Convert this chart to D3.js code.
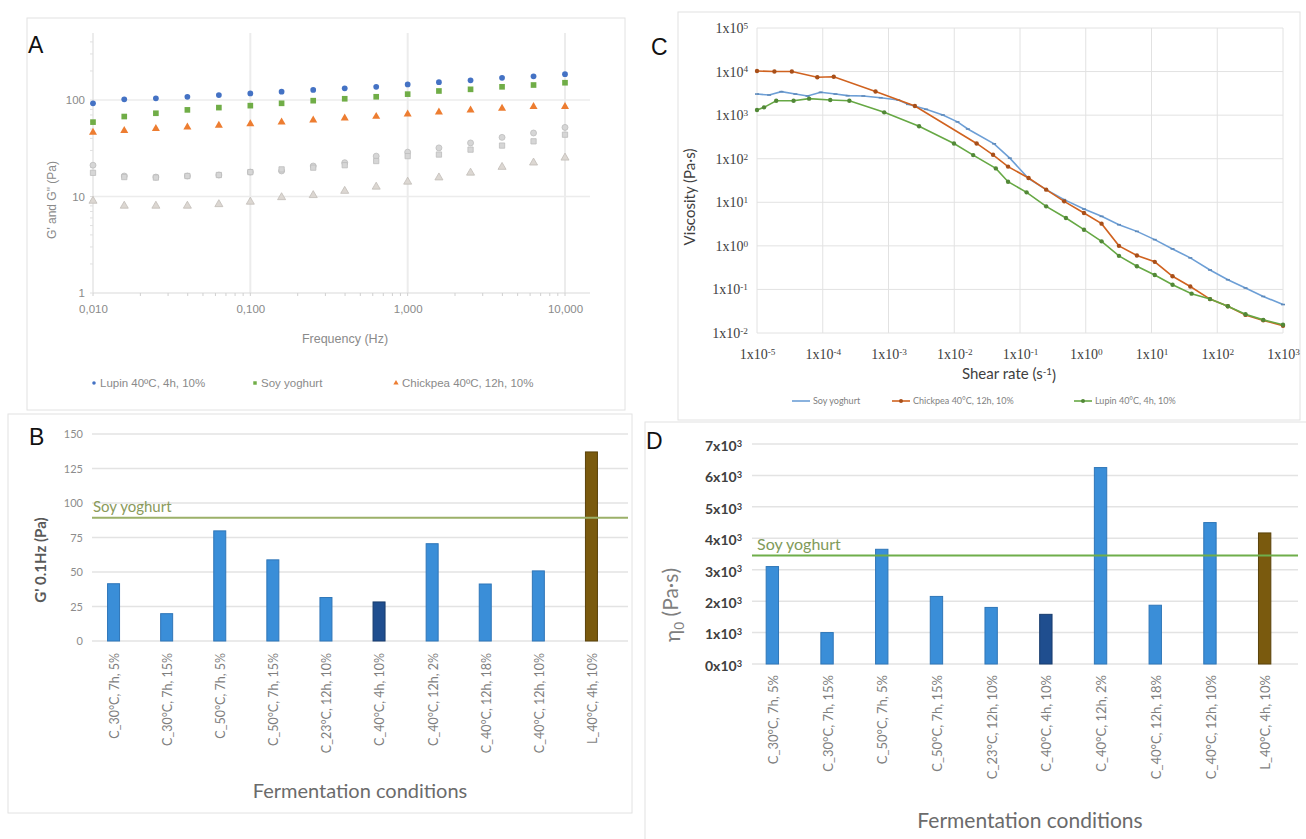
<!DOCTYPE html>
<html>
<head>
<meta charset="utf-8">
<script src="https://cdn.jsdelivr.net/npm/d3@7"></script>
<style>
  body { margin: 0; background: #fff; }
  svg { display: block; }
</style>
</head>
<body>
<script>
// ---- panel A: frequency sweep (G' filled colour, G'' grey)
var freqHz = [0.01, 0.0158, 0.0251, 0.0398, 0.0631, 0.1, 0.158, 0.251, 0.398, 0.631, 1, 1.58, 2.51, 3.98, 6.31, 10];
var lupinG1 = [92.4, 101.6, 104, 108, 112.6, 117, 122, 127, 132, 137, 145, 153, 160, 170, 176, 185];
var soyG1 = [59, 67.4, 72.9, 79, 83.4, 87.4, 92.4, 98.4, 103, 108, 115, 124, 129, 137, 143, 151];
var chickG1 = [46.2, 48, 50.4, 52.4, 54.5, 56.6, 59, 61.8, 64.8, 67.4, 71.2, 74.7, 78.3, 82, 85.4, 85.4];
var lupinG2 = [21.1, 16.3, 15.9, 16.3, 16.7, 17.9, 18.4, 20.7, 22.4, 26.2, 28.8, 31.9, 35.9, 41, 45.5, 52];
var soyG2 = [17.6, 15.9, 15.7, 16.3, 16.7, 17.9, 19.1, 19.9, 21.1, 23.3, 26.2, 27.2, 30.6, 33.7, 37.3, 43.7];
var chickG2 = [9.0, 8.0, 8.0, 8.0, 8.3, 8.8, 9.8, 10.3, 11.4, 12.6, 14.2, 15.7, 17.6, 20.2, 22.4, 25.2];
var freqTicks = [0.01, 0.1, 1, 10];
var freqTickLabels = ["0,010", "0,100", "1,000", "10,000"];
var modTicks = [1, 10, 100];

// ---- panels B and D: fermentation conditions
var conditions = ["C_30°C, 7h, 5%", "C_30°C, 7h, 15%", "C_50°C, 7h, 5%", "C_50°C, 7h, 15%", "C_23°C, 12h, 10%",
  "C_40°C, 4h, 10%", "C_40°C, 12h, 2%", "C_40°C, 12h, 18%", "C_40°C, 12h, 10%", "L_40°C, 4h, 10%"];
var gPrime01Hz = [41.5, 19.8, 79.8, 58.8, 31.5, 28.3, 70.5, 41.3, 50.8, 137];
var soyGPrime = 89.3;
var gTicks = [0, 25, 50, 75, 100, 125, 150];
var eta0 = [3100, 1000, 3650, 2150, 1800, 1580, 6250, 1870, 4500, 4170];
var soyEta0 = 3450;
var etaTicks = [0, 1000, 2000, 3000, 4000, 5000, 6000, 7000];

// ---- panel C: flow curves
var soyShear = [1e-5, 1.53e-5, 2.35e-5, 3.83e-5, 5.87e-5, 9.3e-5, 1.56e-4, 2.39e-4, 4.14e-4, 7.6e-4, 1.41e-3, 1.98e-3, 3.73e-3, 6.7e-3,
  0.0112, 0.0161, 0.0404, 0.070, 0.136, 0.25, 0.47, 0.94, 1.74, 3.2, 6.0, 11.2, 20.9, 38.9, 77.6, 145, 269, 501, 1000];
var soyVisc = [3050, 2900, 3460, 3050, 2750, 3340, 3050, 2800, 2750, 2510, 2220, 1770, 1360, 1010,
  700, 480, 220, 103, 34.8, 19.5, 11.5, 7.0, 4.76, 3.06, 2.15, 1.39, 0.85, 0.53, 0.28, 0.167, 0.108, 0.069, 0.045];
var chickShear = [1e-5, 1.84e-5, 3.39e-5, 8.26e-5, 1.47e-4, 6.35e-4, 2.52e-3, 0.0219, 0.0389, 0.0658, 0.135, 0.25, 0.47, 0.94,
  1.74, 3.2, 6.0, 11.2, 20.9, 38.9, 77.6, 145, 269, 501, 1000];
var chickVisc = [10300, 10000, 10000, 7400, 7600, 3500, 1620, 224, 123, 66, 36.1, 19.5, 10.5, 5.67,
  3.23, 1.0, 0.6, 0.43, 0.20, 0.117, 0.060, 0.041, 0.026, 0.0195, 0.0147];
var lupinShear = [1e-5, 1.28e-5, 1.96e-5, 3.6e-5, 6.2e-5, 1.3e-4, 2.54e-4, 8.6e-4, 2.92e-3, 9.9e-3, 0.0194, 0.0429, 0.0658,
  0.126, 0.25, 0.5, 0.94, 1.74, 3.2, 6.0, 11.2, 20.9, 40.7, 77.6, 145, 269, 501, 1000];
var lupinVisc = [1310, 1510, 2140, 2140, 2390, 2230, 2140, 1160, 555, 224, 121, 60, 29.7,
  16.9, 8.07, 4.36, 2.35, 1.27, 0.59, 0.34, 0.214, 0.128, 0.080, 0.060, 0.041, 0.027, 0.020, 0.0155];
var shearTicks = [1e-5, 1e-4, 1e-3, 1e-2, 1e-1, 1, 10, 100, 1000];
var viscTicks = [1e-2, 1e-1, 1, 10, 100, 1000, 1e4, 1e5];

var svg = d3.select("body").append("svg")
    .attr("width", 1306)
    .attr("height", 839);

var sans = "'Liberation Sans', Arial, sans-serif";
var cal = "Lato, 'Open Sans', sans-serif";

// panel frames
svg.append("rect").attr("x", 27).attr("y", 18).attr("width", 598).attr("height", 392)
    .attr("fill", "none").attr("stroke", "#e2e2e2");
svg.append("rect").attr("x", 8).attr("y", 414).attr("width", 624).attr("height", 399)
    .attr("fill", "none").attr("stroke", "#e2e2e2");
svg.append("rect").attr("x", 678).attr("y", 12).attr("width", 622).attr("height", 408)
    .attr("fill", "none").attr("stroke", "#e2e2e2");
svg.append("rect").attr("x", 645).attr("y", 422).attr("width", 700).attr("height", 440)
    .attr("fill", "none").attr("stroke", "#e2e2e2");

function panelLetter(t, x, y) {
  svg.append("text").attr("x", x).attr("y", y).text(t)
      .style("font-family", sans).style("font-size", "23px").style("fill", "#111");
}
panelLetter("A", 28, 53);
panelLetter("B", 29, 445);
panelLetter("C", 651, 55);
panelLetter("D", 646, 449);

function supText(sel, base, exp) {
  sel.text(null);
  sel.append("tspan").text(base);
  sel.append("tspan").attr("dy", "-0.45em").style("font-size", "66%").text(exp);
}

// ================= A =================
(function () {
  var g = svg.append("g");
  var x = d3.scaleLog().domain([0.01, 10]).range([93, 565]);
  var y = d3.scaleLog().domain([1, 100]).range([293, 100]);
  var right = 590, top = 33;

  g.selectAll("line.hgrid").data([10, 100]).join("line").attr("class", "hgrid")
      .attr("x1", x(0.01)).attr("x2", right).attr("y1", y).attr("y2", y)
      .attr("stroke", "#ececec").attr("stroke-width", 1.5);
  g.selectAll("line.vgrid").data([0.1, 1, 10]).join("line").attr("class", "vgrid")
      .attr("x1", x).attr("x2", x).attr("y1", top).attr("y2", y(1))
      .attr("stroke", "#ececec").attr("stroke-width", 2);

  // axis lines with minor ticks
  g.append("line").attr("x1", x(0.01)).attr("x2", right).attr("y1", y(1)).attr("y2", y(1)).attr("stroke", "#d9d9d9");
  g.append("line").attr("x1", x(0.01)).attr("x2", x(0.01)).attr("y1", top).attr("y2", y(1)).attr("stroke", "#d9d9d9");
  var xMinor = d3.scaleLog().domain([0.01, x.invert(right)]).ticks();
  g.selectAll("line.xm").data(xMinor).join("line").attr("class", "xm")
      .attr("x1", x).attr("x2", x).attr("y1", y(1)).attr("y2", y(1) + 3).attr("stroke", "#d0d0d0");
  var yMinor = d3.scaleLog().domain([1, y.invert(top)]).ticks();
  g.selectAll("line.ym").data(yMinor).join("line").attr("class", "ym")
      .attr("x1", x(0.01) - 3).attr("x2", x(0.01)).attr("y1", y).attr("y2", y).attr("stroke", "#e0e0e0");

  var xAxis = g.append("g").attr("transform", "translate(0," + y(1) + ")")
      .call(d3.axisBottom(x).tickValues(freqTicks).tickSize(0).tickPadding(12)
        .tickFormat(function (d, i) { return freqTickLabels[i]; }));
  var yAxis = g.append("g").attr("transform", "translate(" + x(0.01) + ",0)")
      .call(d3.axisLeft(y).tickValues(modTicks).tickSize(0).tickPadding(8).tickFormat(d3.format("d")));
  [xAxis, yAxis].forEach(function (a) {
    a.select(".domain").remove();
    a.selectAll("text").style("font-family", sans).style("font-size", "11.5px").style("fill", "#8a8a8a");
  });

  g.append("text").attr("transform", "translate(56,200) rotate(-90)").attr("text-anchor", "middle")
      .text("G' and G\" (Pa)").style("font-family", sans).style("font-size", "12px").style("fill", "#8a8a8a");
  g.append("text").attr("x", 345).attr("y", 343).attr("text-anchor", "middle").text("Frequency (Hz)")
      .style("font-family", sans).style("font-size", "12.5px").style("fill", "#8a8a8a");

  var series = [
    { v: lupinG2, type: d3.symbolCircle, size: 28, fill: "#d6d6d6", stroke: "#bdbdbd" },
    { v: soyG2, type: d3.symbolSquare, size: 28, fill: "#d6d6d6", stroke: "#bdbdbd" },
    { v: chickG2, type: d3.symbolTriangle, size: 28, fill: "#dcd7d2", stroke: "#c2bdb8" },
    { v: chickG1, type: d3.symbolTriangle, size: 28, fill: "#ed7d31", stroke: "none" },
    { v: soyG1, type: d3.symbolSquare, size: 32, fill: "#70ad47", stroke: "none" },
    { v: lupinG1, type: d3.symbolCircle, size: 26, fill: "#4472c4", stroke: "none" }
  ];
  series.forEach(function (s) {
    g.append("g").selectAll("path").data(s.v).join("path")
        .attr("d", d3.symbol().type(s.type).size(s.size))
        .attr("transform", function (d, i) { return "translate(" + x(freqHz[i]) + "," + y(d) + ")"; })
        .attr("fill", s.fill).attr("stroke", s.stroke).attr("stroke-width", 0.8);
  });

  var legend = [
    { t: "Lupin 40ºC, 4h, 10%", type: d3.symbolCircle, size: 10, fill: "#4472c4", x: 94 },
    { t: "Soy yoghurt", type: d3.symbolSquare, size: 12, fill: "#70ad47", x: 255 },
    { t: "Chickpea 40ºC, 12h, 10%", type: d3.symbolTriangle, size: 12, fill: "#ed7d31", x: 396 }
  ];
  legend.forEach(function (l) {
    g.append("path").attr("d", d3.symbol().type(l.type).size(l.size)())
        .attr("transform", "translate(" + l.x + ",383)").attr("fill", l.fill);
    g.append("text").attr("x", l.x + 6).attr("y", 387).text(l.t)
        .style("font-family", sans).style("font-size", "11.5px").style("fill", "#8a8a8a");
  });
})();

// ================= bar panels B and D =================
function barColor(c) {
  if (c.indexOf("L_") === 0) return "#7a5a0e";
  if (c === "C_40°C, 4h, 10%") return "#1f4e8f";
  return "#3a8ed8";
}
function barStroke(c) {
  if (c.indexOf("L_") === 0) return "#5a420a";
  if (c === "C_40°C, 4h, 10%") return "#183c6e";
  return "#2f76b8";
}

function barPanel(o) {
  var g = svg.append("g");
  var x = d3.scaleBand().domain(conditions).range(o.xRange).paddingInner(0.774).paddingOuter(0.387);
  var y = d3.scaleLinear().domain(o.yDomain).range(o.yRange);

  g.selectAll("line.grid").data(o.ticks).join("line").attr("class", "grid")
      .attr("x1", o.gridX[0]).attr("x2", o.gridX[1]).attr("y1", y).attr("y2", y)
      .attr("stroke", "#e3e3e3").attr("stroke-width", 1.5);

  var yAxis = g.append("g").attr("transform", "translate(" + o.labelX + ",0)")
      .call(d3.axisLeft(y).tickValues(o.ticks).tickSize(0).tickPadding(0).tickFormat(function () { return ""; }));
  yAxis.select(".domain").remove();
  yAxis.selectAll(".tick text").each(function (d) { o.tickText(d3.select(this), d); })
      .style("font-family", o.tickFont).style("font-size", o.tickSize).style("fill", o.tickFill)
      .style("font-weight", o.tickWeight);

  g.selectAll("rect.bar").data(o.values).join("rect").attr("class", "bar")
      .attr("x", function (d, i) { return x(conditions[i]); })
      .attr("width", x.bandwidth())
      .attr("y", function (d) { return y(d); })
      .attr("height", function (d) { return y(0) - y(d); })
      .attr("fill", function (d, i) { return barColor(conditions[i]); })
      .attr("stroke", function (d, i) { return barStroke(conditions[i]); })
      .attr("stroke-width", 1);

  g.append("line").attr("x1", o.gridX[0]).attr("x2", o.gridX[1]).attr("y1", y(o.soy)).attr("y2", y(o.soy))
      .attr("stroke", o.soyColor).attr("stroke-width", 2);
  g.append("text").attr("x", o.soyX).attr("y", y(o.soy) - 6).text("Soy yoghurt")
      .style("font-family", cal).style("font-size", o.soySize).style("fill", o.soyText);

  g.selectAll("text.cat").data(conditions).join("text").attr("class", "cat")
      .attr("transform", function (d) { return "translate(" + (x(d) + x.bandwidth() / 2 + 1) + "," + o.catY + ") rotate(-90)"; })
      .attr("text-anchor", "end").attr("dy", "0.35em").text(function (d) { return d; })
      .style("font-family", cal).style("font-size", o.catSize).style("fill", "#7f7f7f");

  g.append("text").attr("x", o.titleX).attr("y", o.titleY).attr("text-anchor", "middle").text("Fermentation conditions")
      .style("font-family", cal).style("font-size", o.titleSize).style("fill", "#6b6b6b");
  return g;
}

var gB = barPanel({
  xRange: [87, 618], yDomain: [0, 150], yRange: [641, 434], ticks: gTicks, gridX: [92, 628],
  labelX: 83, tickFont: cal, tickSize: "11px", tickFill: "#8c8c8c", tickWeight: 400,
  tickText: function (s, d) { s.text(d); },
  values: gPrime01Hz, soy: soyGPrime, soyColor: "#9bb069", soyText: "#8a9a5b", soyX: 93, soySize: "15px",
  catY: 653, catSize: "12.5px", titleX: 360, titleY: 798, titleSize: "20px"
});
gB.append("text").attr("transform", "translate(46,560) rotate(-90)").attr("text-anchor", "middle")
    .text("G' 0.1Hz (Pa)").style("font-family", cal).style("font-size", "15px").style("font-weight", 700)
    .style("fill", "#595959");

var gD = barPanel({
  xRange: [745, 1292], yDomain: [0, 7000], yRange: [664, 444], ticks: etaTicks, gridX: [752, 1298],
  labelX: 742, tickFont: cal, tickSize: "14px", tickFill: "#404040", tickWeight: 700,
  tickText: function (s, d) { supText(s, (d / 1000) + "x10", "3"); s.attr("dy", "0.45em"); },
  values: eta0, soy: soyEta0, soyColor: "#6fae4b", soyText: "#7f9a5a", soyX: 757, soySize: "16px",
  catY: 675, catSize: "13px", titleX: 1030, titleY: 828, titleSize: "21px"
});
var dTitle = gD.append("text").attr("transform", "translate(680,605) rotate(-90)").attr("text-anchor", "middle")
    .style("font-family", cal).style("font-size", "21px").style("fill", "#7f7f7f");
dTitle.append("tspan").text("η");
dTitle.append("tspan").attr("dy", "0.3em").style("font-size", "65%").text("0");
dTitle.append("tspan").attr("dy", "-0.3em").text(" (Pa·s)");

// ================= C =================
(function () {
  var g = svg.append("g");
  var x = d3.scaleLog().domain([1e-5, 1e3]).range([757, 1283]);
  var y = d3.scaleLog().domain([1e-2, 1e5]).range([333, 28]);

  g.selectAll("line.vg").data(shearTicks).join("line").attr("class", "vg")
      .attr("x1", x).attr("x2", x).attr("y1", y(1e5)).attr("y2", y(1e-2)).attr("stroke", "#e2e2e2");
  g.selectAll("line.hg").data(viscTicks).join("line").attr("class", "hg")
      .attr("x1", x(1e-5)).attr("x2", x(1e3)).attr("y1", y).attr("y2", y).attr("stroke", "#e2e2e2");

  var serif = "'Liberation Serif', 'DejaVu Serif', serif";
  var xAxis = g.append("g").attr("transform", "translate(0," + y(1e-2) + ")")
      .call(d3.axisBottom(x).tickValues(shearTicks).tickSize(0).tickPadding(16));
  xAxis.selectAll(".tick text").each(function (d) { supText(d3.select(this), "1x10", String(Math.round(Math.log10(d)))); });
  var yAxis = g.append("g").attr("transform", "translate(" + (x(1e-5) - 9) + ",0)")
      .call(d3.axisLeft(y).tickValues(viscTicks).tickSize(0).tickPadding(0));
  yAxis.selectAll(".tick text").each(function (d) { supText(d3.select(this), "1x10", String(Math.round(Math.log10(d)))); });
  [xAxis, yAxis].forEach(function (a) {
    a.select(".domain").remove();
    a.selectAll("text").style("font-family", serif).style("font-size", "14px").style("fill", "#404040");
  });

  g.append("text").attr("transform", "translate(695,197) rotate(-90)").attr("text-anchor", "middle")
      .text("Viscosity (Pa·s)").style("font-family", cal).style("font-size", "15px").style("fill", "#404040");
  var xt = g.append("text").attr("x", 1009).attr("y", 379).attr("text-anchor", "middle")
      .style("font-family", cal).style("font-size", "15px").style("fill", "#404040");
  xt.append("tspan").text("Shear rate (s");
  xt.append("tspan").attr("dy", "-0.45em").style("font-size", "65%").text("-1");
  xt.append("tspan").attr("dy", "0.45em").text(")");

  var line = d3.line().x(function (d) { return x(d[0]); }).y(function (d) { return y(d[1]); });
  var flows = [
    { sx: soyShear, sv: soyVisc, color: "#6d9fd6", mark: "dash" },
    { sx: chickShear, sv: chickVisc, color: "#d0621f", mark: "dot" },
    { sx: lupinShear, sv: lupinVisc, color: "#66a844", mark: "dot" }
  ];
  flows.forEach(function (f) {
    var pts = f.sx.map(function (s, i) { return [s, f.sv[i]]; });
    g.append("path").datum(pts).attr("d", line).attr("fill", "none")
        .attr("stroke", f.color).attr("stroke-width", 1.6);
    if (f.mark === "dot") {
      g.append("g").selectAll("circle").data(pts).join("circle")
          .attr("cx", function (d) { return x(d[0]); }).attr("cy", function (d) { return y(d[1]); })
          .attr("r", 2.2).attr("fill", d3.color(f.color).darker(0.6));
    } else {
      g.append("g").selectAll("line").data(pts).join("line")
          .attr("x1", function (d) { return x(d[0]) - 2; }).attr("x2", function (d) { return x(d[0]) + 2; })
          .attr("y1", function (d) { return y(d[1]); }).attr("y2", function (d) { return y(d[1]); })
          .attr("stroke", d3.color(f.color).darker(0.4)).attr("stroke-width", 1.6);
    }
  });

  var legend = [
    { t: "Soy yoghurt", color: "#6d9fd6", dot: false, x: 792 },
    { t: "Chickpea 40°C, 12h, 10%", color: "#d0621f", dot: true, x: 892 },
    { t: "Lupin 40°C, 4h, 10%", color: "#66a844", dot: true, x: 1074 }
  ];
  legend.forEach(function (l) {
    g.append("line").attr("x1", l.x).attr("x2", l.x + 18).attr("y1", 401).attr("y2", 401)
        .attr("stroke", l.color).attr("stroke-width", 1.6);
    if (l.dot) g.append("circle").attr("cx", l.x + 9).attr("cy", 401).attr("r", 2).attr("fill", d3.color(l.color).darker(0.6));
    g.append("text").attr("x", l.x + 21).attr("y", 404).text(l.t)
        .style("font-family", cal).style("font-size", "9px").style("fill", "#7f7f7f");
  });
})();
</script>
</body>
</html>
